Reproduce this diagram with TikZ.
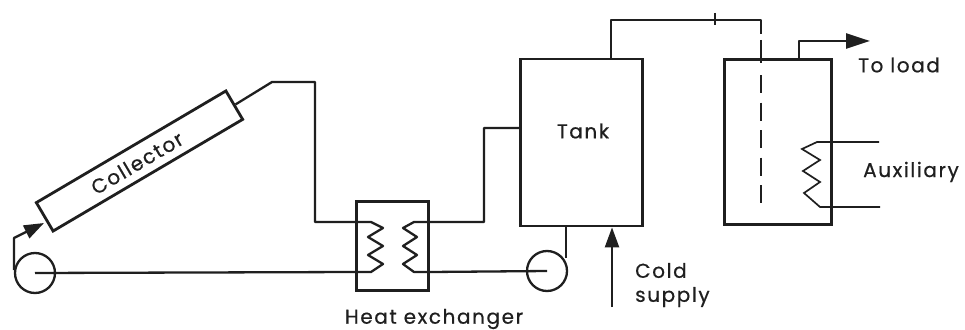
\documentclass[tikz,border=0pt]{standalone}
\usepackage{fontspec}
\setmainfont{Poppins}[LetterSpace=8,FakeBold=0.6]
\usetikzlibrary{arrows.meta}
\definecolor{ink}{gray}{0.12}
\tikzset{
  x=1pt,y=-1pt,
  vessel/.style={draw=ink,line width=2.8pt,rectangle,inner sep=0pt,minimum width=#1},
  pumpc/.style={draw=ink,line width=2.3pt,circle,inner sep=0pt,minimum size=40pt},
  pipe/.style={draw=ink,line width=2.3pt,line join=round},
  thinpipe/.style={draw=ink,line width=1.7pt,line join=miter},
  lab/.style={text=ink,inner sep=0pt,font=\fontsize{20}{24}\selectfont},
  flow/.style={pipe,-{Triangle[length=20pt,width=14pt]}},
}
\begin{document}
\begin{tikzpicture}
\useasboundingbox[fill=white] (0,0) rectangle (965,329);
% main vessels
\node[vessel=220pt,minimum height=33pt,rotate=30.5] (collector) at (139.5,161) {};
\node[lab,rotate=30.5] (collectorlabel) at (137,163) {Collector};
\node[vessel=72pt,minimum height=89pt] (hx) at (392.5,246) {};
\node[vessel=122pt,minimum height=167pt] (tank) at (581.5,142.5) {};
\node[vessel=107pt,minimum height=165pt] (aux) at (778,142) {};
\node[pumpc] (pumpa) at (35,273) {};
\node[pumpc] (pumpb) at (547,271) {};
% labels
\node[lab] (tanklabel) at (583,131) {Tank};
\node[lab] (hxlabel) at (434,319) {Heat exchanger};
\node[lab] (loadlabel) at (899,65) {To load};
\node[lab] (auxlabel) at (911,172) {Auxiliary};
\node[lab,align=left,anchor=west] (coldlabel) at (635,285) {Cold\\supply};
% free ends
\coordinate (pa) at (272,82);
\coordinate (pb) at (315,82);
\coordinate (pc) at (315,222);
\coordinate (hl1) at (371,222);
\coordinate (hl2) at (371,272);
\coordinate (hr1) at (414,222);
\coordinate (hr2) at (414,272);
\coordinate (up1) at (484,222);
\coordinate (up2) at (484,128);
\coordinate (top1) at (611,20);
\coordinate (top2) at (761,20);
\coordinate (dipend) at (761,203);
\coordinate (load1) at (799,41);
\coordinate (loadend) at (870,41);
\coordinate (coldstart) at (612,307);
\coordinate (p0) at (14,270);
\coordinate (p1) at (14,238);
\coordinate (p3) at (44,223);
\coordinate (heatin) at (879,142);
\coordinate (heatout) at (880,207);
% collector loop
\draw[pipe] (collector.east) -- (pa) -- (pb) -- (pc) -- (hx.west |- pc) -- (hl1)
  -- (383,228) -- (368,237) -- (383,246) -- (368,255) -- (383,264) -- (hl2)
  -- (hx.west |- hl2) -- (pumpa.center);
\draw[flow] (p0) -- (p1) -- (p3);
% tank loop
\draw[pipe] (tank.west |- up2) -- (up2) -- (up1) -- (hx.east |- up1) -- (hr1)
  -- (403,228) -- (417,237) -- (403,246) -- (417,255) -- (403,264) -- (hr2)
  -- (hx.east |- hr2) -- (pumpb.center);
\draw[pipe] (tank.south -| pumpb.east) ++(-2,0) -- ++(0,31);
\draw[flow] (coldstart) -- (tank.south -| coldstart);
% transfer to auxiliary tank
\draw[pipe] (tank.north -| top1) -- (top1) -- (top2) -- (761,34);
\draw[draw=ink,line width=2.8pt] (761,40) -- (761,63);
\draw[draw=ink,line width=2.4pt,dash pattern=on 18pt off 9.5pt] (761,75) -- (dipend);
\draw[draw=ink,line width=1.8pt] (715,13) -- (715,25);
\draw[pipe,line width=2.8pt,-{Triangle[length=24pt,width=15pt]}] (aux.north -| load1) -- (load1) -- (loadend);
% heater
\draw[thinpipe] (heatin) -- (817,142) -- (802,149) -- (820,160) -- (803,171) -- (820,182) -- (804,193) -- (820,207) -- (heatout);
\end{tikzpicture}
\end{document}
